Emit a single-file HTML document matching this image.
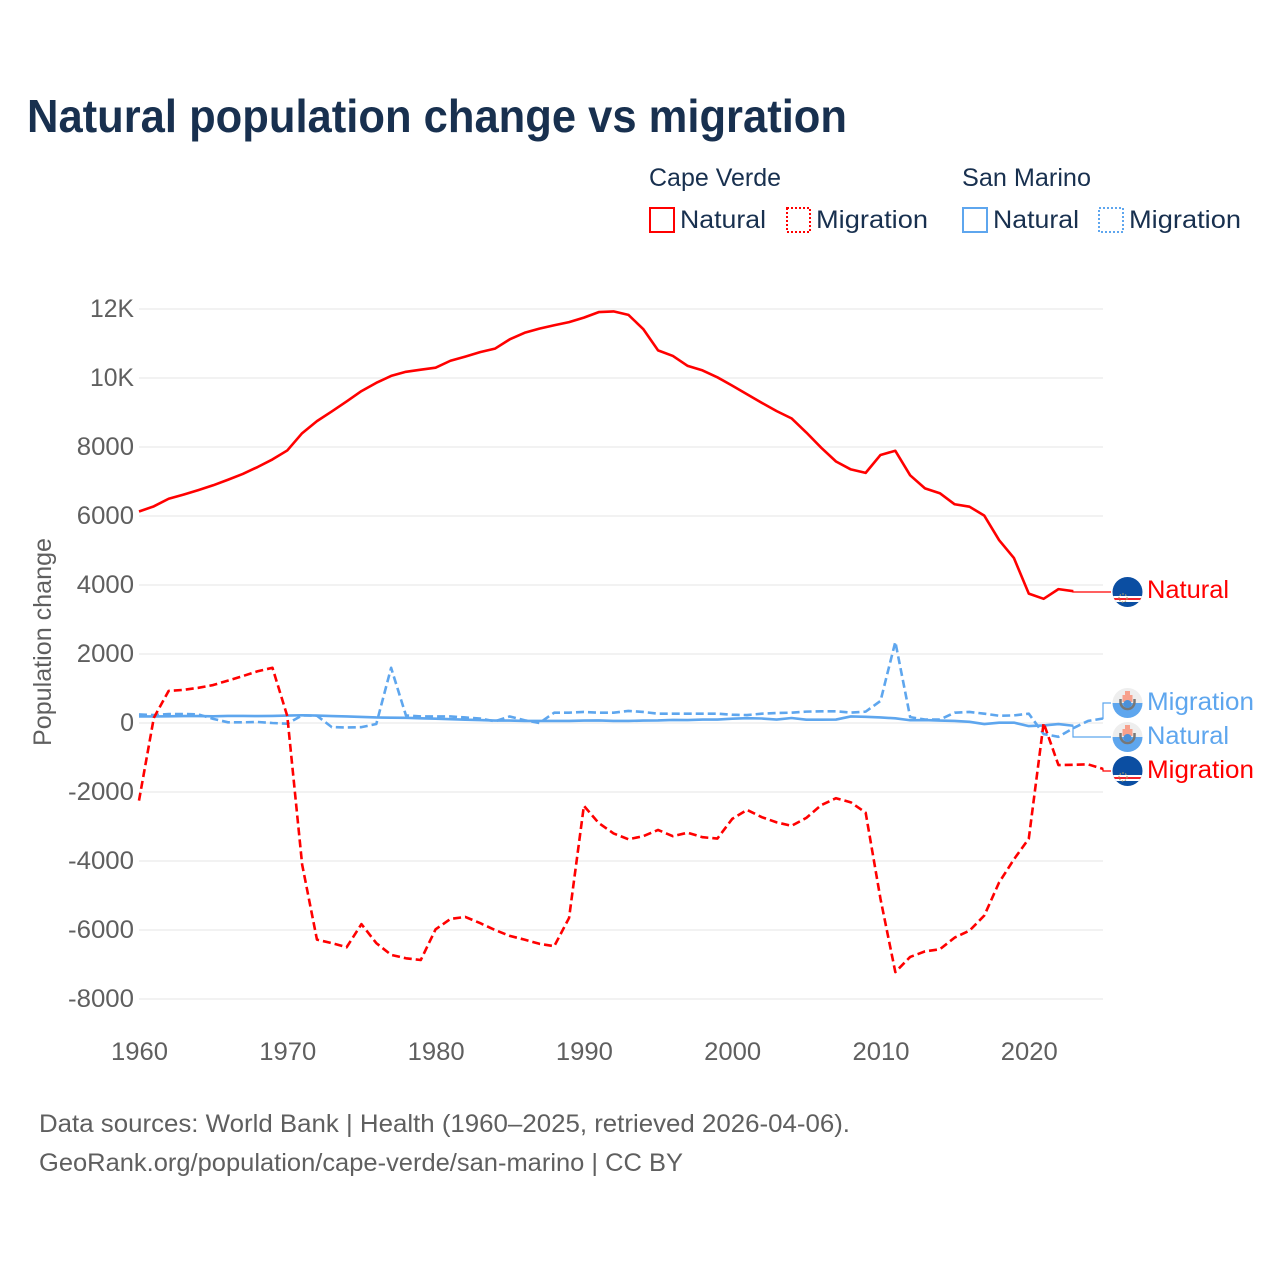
<!DOCTYPE html>
<html lang="en">
<head>
<meta charset="utf-8">
<title>Natural population change vs migration</title>
<style>
html,body{margin:0;padding:0;background:#fff;}
svg{display:block;font-family:"Liberation Sans",sans-serif;}
</style>
</head>
<body>
<svg id="chart" xmlns="http://www.w3.org/2000/svg" width="1280" height="1280" viewBox="0 0 1280 1280">
  <defs>
    <clipPath id="clip-a"><circle cx="1127.5" cy="592" r="15"/></clipPath>
    <clipPath id="clip-b"><circle cx="1127.5" cy="703" r="15"/></clipPath>
    <clipPath id="clip-c"><circle cx="1127.5" cy="737" r="15"/></clipPath>
    <clipPath id="clip-d"><circle cx="1127.5" cy="771" r="15"/></clipPath>
  </defs>
  <rect width="1280" height="1280" fill="#fff"/>
  <text x="27" y="132" font-size="46" font-weight="700" fill="#18304f" textLength="820" lengthAdjust="spacingAndGlyphs">Natural population change vs migration</text>

  <g font-size="25" fill="#18304f">
    <text x="649" y="186" textLength="132" lengthAdjust="spacingAndGlyphs">Cape Verde</text>
    <text x="962" y="186" textLength="129" lengthAdjust="spacingAndGlyphs">San Marino</text>
    <rect x="650" y="208" width="24" height="24" fill="none" stroke="#ff0000" stroke-width="2"/>
    <text x="680" y="228" textLength="86" lengthAdjust="spacingAndGlyphs">Natural</text>
    <rect x="787" y="208" width="23" height="24" fill="none" stroke="#ff0000" stroke-width="2" stroke-dasharray="2 2"/>
    <text x="816" y="228" textLength="112" lengthAdjust="spacingAndGlyphs">Migration</text>
    <rect x="963" y="208" width="24" height="24" fill="none" stroke="#5ea6ee" stroke-width="2"/>
    <text x="993" y="228" textLength="86" lengthAdjust="spacingAndGlyphs">Natural</text>
    <rect x="1099" y="208" width="24" height="24" fill="none" stroke="#5ea6ee" stroke-width="2" stroke-dasharray="2 2"/>
    <text x="1129" y="228" textLength="112" lengthAdjust="spacingAndGlyphs">Migration</text>
  </g>

  <g id="grid"></g>
  <g id="yticks" font-size="25" fill="#5f5f5f"></g>
  <g id="xticks" font-size="25" fill="#5f5f5f"></g>
  <text transform="translate(51,746) rotate(-90)" font-size="25" fill="#5f5f5f" textLength="208" lengthAdjust="spacingAndGlyphs">Population change</text>
  <g id="series"></g>

  <g clip-path="url(#clip-a)">
    <rect x="1112" y="577" width="31" height="30" fill="#0b4ea2"/>
    <rect x="1112" y="596" width="31" height="6" fill="#fff"/>
    <rect x="1112" y="598" width="31" height="2" fill="#f0232b"/>
    <circle cx="1123" cy="598" r="4" fill="none" stroke="#b5a36a" stroke-width="1.2" stroke-dasharray="1.5 1.5"/>
  </g>
  <g clip-path="url(#clip-b)">
    <rect x="1112" y="688" width="31" height="15" fill="#eeeeee"/>
    <rect x="1112" y="703" width="31" height="15" fill="#5ea6ee"/>
    <path d="M1120.5 699v3a7 7 0 0 0 14 0v-3" fill="none" stroke="#777" stroke-width="2.5"/>
    <rect x="1125" y="691" width="5" height="6" fill="#f7a08c"/>
    <rect x="1122.5" y="695" width="10" height="7" fill="#f7a08c"/>
    <circle cx="1127.5" cy="704" r="4" fill="#4a90d9"/>
  </g>
  <g clip-path="url(#clip-c)">
    <rect x="1112" y="722" width="31" height="15" fill="#eeeeee"/>
    <rect x="1112" y="737" width="31" height="15" fill="#5ea6ee"/>
    <path d="M1120.5 733v3a7 7 0 0 0 14 0v-3" fill="none" stroke="#777" stroke-width="2.5"/>
    <rect x="1125" y="725" width="5" height="6" fill="#f7a08c"/>
    <rect x="1122.5" y="729" width="10" height="7" fill="#f7a08c"/>
    <circle cx="1127.5" cy="738" r="4" fill="#4a90d9"/>
  </g>
  <g clip-path="url(#clip-d)">
    <rect x="1112" y="756" width="31" height="30" fill="#0b4ea2"/>
    <rect x="1112" y="775" width="31" height="6" fill="#fff"/>
    <rect x="1112" y="777" width="31" height="2" fill="#f0232b"/>
    <circle cx="1123" cy="777" r="4" fill="none" stroke="#b5a36a" stroke-width="1.2" stroke-dasharray="1.5 1.5"/>
  </g>

  <g font-size="25">
    <text x="1147" y="598" fill="#ff0000" textLength="82" lengthAdjust="spacingAndGlyphs">Natural</text>
    <text x="1147" y="710" fill="#5ea6ee" textLength="107" lengthAdjust="spacingAndGlyphs">Migration</text>
    <text x="1147" y="744" fill="#5ea6ee" textLength="82" lengthAdjust="spacingAndGlyphs">Natural</text>
    <text x="1147" y="778" fill="#ff0000" textLength="107" lengthAdjust="spacingAndGlyphs">Migration</text>
  </g>

  <g font-size="25" fill="#5f5f5f">
    <text x="39" y="1132" textLength="811" lengthAdjust="spacingAndGlyphs">Data sources: World Bank | Health (1960–2025, retrieved 2026-04-06).</text>
    <text x="39" y="1171" textLength="644" lengthAdjust="spacingAndGlyphs">GeoRank.org/population/cape-verde/san-marino | CC BY</text>
  </g>
</svg>
<script>
const years = [1960,1961,1962,1963,1964,1965,1966,1967,1968,1969,1970,1971,1972,1973,1974,1975,1976,1977,1978,1979,1980,1981,1982,1983,1984,1985,1986,1987,1988,1989,1990,1991,1992,1993,1994,1995,1996,1997,1998,1999,2000,2001,2002,2003,2004,2005,2006,2007,2008,2009,2010,2011,2012,2013,2014,2015,2016,2017,2018,2019,2020,2021,2022,2023,2024,2025];
const capeVerdeNatural = [6130,6280,6500,6620,6750,6890,7050,7220,7420,7640,7900,8400,8750,9030,9320,9620,9860,10060,10180,10240,10300,10500,10620,10750,10850,11120,11310,11430,11530,11620,11750,11910,11930,11830,11420,10800,10640,10350,10220,10020,9780,9530,9280,9040,8830,8420,7980,7580,7350,7250,7770,7890,7180,6800,6660,6340,6270,6010,5300,4780,3750,3600,3880,3820];
const capeVerdeMigration = [-2250,150,930,960,1020,1100,1230,1360,1500,1600,200,-4100,-6280,-6380,-6500,-5830,-6380,-6720,-6820,-6870,-5980,-5680,-5620,-5800,-6000,-6170,-6280,-6400,-6470,-5650,-2400,-2900,-3200,-3370,-3280,-3100,-3280,-3180,-3310,-3350,-2780,-2520,-2730,-2880,-2980,-2750,-2380,-2180,-2300,-2600,-5100,-7220,-6780,-6620,-6560,-6220,-6020,-5580,-4620,-3950,-3350,0,-1220,-1210,-1200,-1330];
const sanMarinoNatural = [190,190,195,200,200,195,205,205,200,205,215,225,215,200,190,175,160,155,150,135,125,110,95,85,70,70,60,60,60,60,70,75,60,60,70,75,90,85,100,100,125,140,130,100,145,95,95,100,190,180,160,135,80,85,70,60,35,-30,10,10,-90,-70,-30,-80];
const sanMarinoMigration = [250,230,260,260,250,120,20,20,30,0,-20,220,210,-120,-130,-120,-30,1600,220,190,190,190,160,130,50,190,80,0,300,300,320,300,300,350,320,270,270,270,270,270,240,230,270,290,300,330,340,340,300,330,640,2350,170,100,100,300,320,270,210,220,270,-320,-400,-150,60,130];
const yTickValues = [12000,10000,8000,6000,4000,2000,0,-2000,-4000,-6000,-8000];
const yTickLabels = ["12K","10K","8000","6000","4000","2000","0","-2000","-4000","-6000","-8000"];
const xTickValues = [1960,1970,1980,1990,2000,2010,2020];

const NS = "http://www.w3.org/2000/svg";
function xScale(year){ return 139 + (year - 1960) * 14.83; }
function yScale(v){ return 723 - v * 0.0345; }
function make(tag, parent, attrs){
  const el = document.createElementNS(NS, tag);
  for (const k in attrs) el.setAttribute(k, attrs[k]);
  parent.appendChild(el);
  return el;
}

const gridG = document.getElementById("grid");
const yG = document.getElementById("yticks");
const xG = document.getElementById("xticks");
const seriesG = document.getElementById("series");

yTickValues.forEach(function(v, i){
  const line = make("line", gridG, {x1:139, x2:1103, y1:yScale(v), y2:yScale(v), stroke:"#ebebeb", "stroke-width":1.2});
  
  
  const label = yTickLabels[i];
  const t = make("text", yG, {x:134, y:yScale(v) + 8, "text-anchor":"end"});
  
  
  t.textContent = label;
  let w = label.length * 14.3;
  if (label.charAt(0) === "-") w = 66;
  if (label.endsWith("K")) w = 44;
  if (label.length > 1) {
    t.setAttribute("textLength", w);
    t.setAttribute("lengthAdjust", "spacingAndGlyphs");
  }
});

xTickValues.forEach(function(v){
  const t = make("text", xG, {x:xScale(v) - 28, y:1060});
  
  
  t.setAttribute("textLength", 57);
  t.setAttribute("lengthAdjust", "spacingAndGlyphs");
  t.textContent = String(v);
});

function drawSeries(values, color, dashed, name){
  const d = values.map(function(v, i){
    return (i ? "L" : "M") + xScale(years[i]).toFixed(2) + " " + yScale(v).toFixed(2);
  }).join("");
  const p = make("path", seriesG, {d:d, fill:"none", stroke:color, "stroke-width":2.6, "stroke-linejoin":"round"});
  if (dashed) p.setAttribute("stroke-dasharray", "8 4");
  
  
}

function drawLeader(values, labelY, midX, color, name){
  const last = values.length - 1;
  const ex = xScale(years[last]);
  const ey = yScale(values[last]);
  const d = "M" + ex.toFixed(2) + " " + ey.toFixed(2) + "H" + midX + "V" + labelY + "H1111";
  const p = make("path", seriesG, {d:d, fill:"none", stroke:color, "stroke-width":1.2});
  
  
}

drawLeader(capeVerdeNatural, 592, 1073, "#ff0000", "leader-cape-verde-natural");
drawLeader(sanMarinoMigration, 703, 1103, "#5ea6ee", "leader-san-marino-migration");
drawLeader(sanMarinoNatural, 737, 1073, "#5ea6ee", "leader-san-marino-natural");
drawLeader(capeVerdeMigration, 771, 1103, "#ff0000", "leader-cape-verde-migration");

drawSeries(sanMarinoMigration, "#5ea6ee", true, "line-san-marino-migration");
drawSeries(sanMarinoNatural, "#5ea6ee", false, "line-san-marino-natural");
drawSeries(capeVerdeNatural, "#ff0000", false, "line-cape-verde-natural");
drawSeries(capeVerdeMigration, "#ff0000", true, "line-cape-verde-migration");
</script>
</body>
</html>
